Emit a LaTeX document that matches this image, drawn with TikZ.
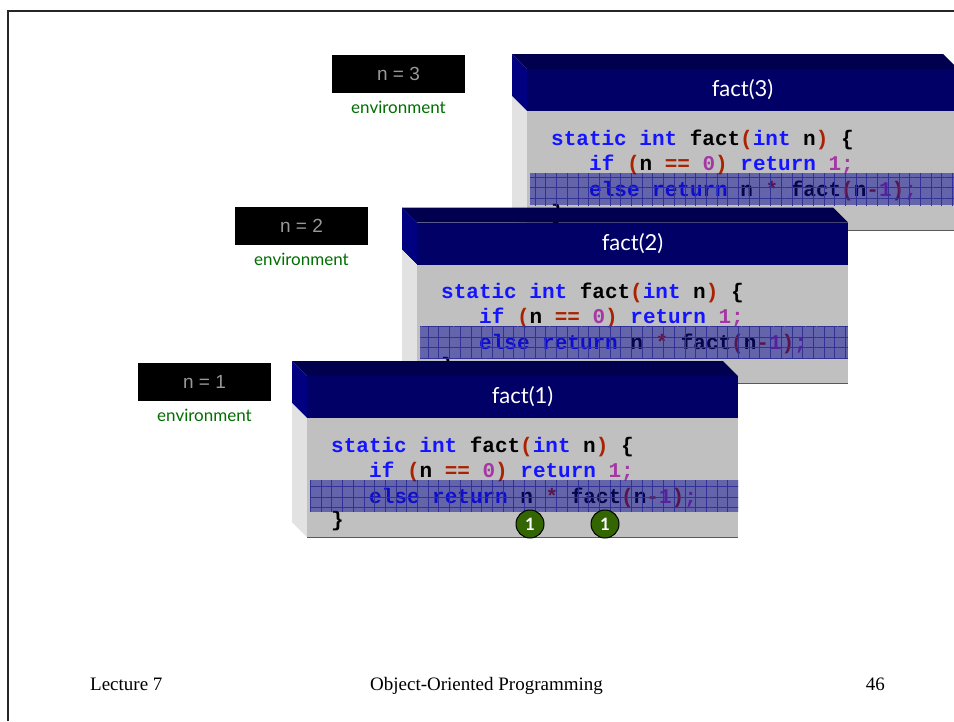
\documentclass[tikz,border=0pt]{standalone}
\usepackage{fontspec}
\setmainfont{Liberation Serif}
\newfontfamily\codefont{Liberation Mono}
\newfontfamily\handfont{Lato}
\newfontfamily\boxfont{Liberation Sans}
\usepackage{xcolor}
\usepackage{tikz}
\usetikzlibrary{positioning, patterns.meta}

\definecolor{navytop}{RGB}{0,0,78}
\definecolor{navyfront}{RGB}{0,0,102}
\definecolor{navyside}{RGB}{0,0,128}
\definecolor{bodygray}{RGB}{192,192,192}
\definecolor{sidegray}{RGB}{226,226,226}
\definecolor{kwblue}{RGB}{20,20,255}
\definecolor{opred}{RGB}{170,34,0}
\definecolor{numpurple}{RGB}{165,55,165}
\definecolor{envgreen}{RGB}{0,110,0}
\definecolor{badgegreen}{RGB}{51,102,0}
\definecolor{bandblue}{RGB}{10,10,150}
\definecolor{gridblue}{RGB}{50,50,150}

\newcommand{\codekw}[1]{\textcolor{kwblue}{#1}}
\newcommand{\codeop}[1]{\textcolor{opred}{#1}}
\newcommand{\codenum}[1]{\textcolor{numpurple}{#1}}

% one call frame: id, left x of front face, top y of front face, title
\newcommand{\callframe}[4]{%
  \begin{scope}[shift={(#2,#3)}]
    \fill[navytop] (0,0) -- (-15,-15) -- (416,-15) -- (431,0) -- cycle;
    \fill[navyside] (0,0) -- (-15,-15) -- (-15,27) -- (0,42) -- cycle;
    \fill[sidegray] (0,42) -- (-15,27) -- (-15,146) -- (0,161) -- cycle;
    \fill[navyfront] (0,0) rectangle (431,42);
    \fill[bodygray] (0,42) rectangle (431,161);
    \draw[gray!70!black] (0,161) -- (431,161);
    \node[head] (head#1) at (215.5,21) {#4};
    \node[code] (sig#1) at (24,76) {\codekw{static int} fact\codeop{(}\codekw{int} n\codeop{)} \{};
    \node[code] (base#1) at (62,101) {\codekw{if} \codeop{(}n \codeop{==} \codenum{0}\codeop{)} \codekw{return} \codenum{1;}};
    \node[code] (rec#1) at (62,127) {\codekw{else return} n \codeop{*} fact\codeop{(}n\codeop{-}\codenum{1}\codeop{)}\codenum{;}};
    \node[code] (close#1) at (24,150) {\}};
    \fill[band] (3,104) rectangle (431,136);
    \fill[vgrid] (3,104) rectangle (431,136);
    \fill[hgrid] (3,104) rectangle (431,136);
  \end{scope}}

\begin{document}
\begin{tikzpicture}[x=1pt, y=-1pt,
    head/.style={text=white, font=\handfont\fontsize{22}{22}\selectfont},
    code/.style={anchor=base west, inner sep=0pt, font=\codefont\bfseries\fontsize{21}{21}\selectfont},
    band/.style={fill=bandblue, fill opacity=0.5},
    vgrid/.style={pattern={Lines[angle=90, distance=10.7pt, line width=0.5pt]}, pattern color=gridblue},
    hgrid/.style={pattern={Lines[angle=0, distance=10.67pt, line width=0.5pt]}, pattern color=gridblue},
    envbox/.style={rectangle, fill=black, text=gray!80, minimum width=133pt, minimum height=38pt, font=\boxfont\fontsize{19}{19}\selectfont},
    envlabel/.style={text=envgreen, inner sep=0pt, font=\handfont\fontsize{17}{17}\selectfont},
    badge/.style={circle, draw=black, line width=1pt, fill=badgegreen, text=white, minimum size=28pt, inner sep=0pt, font=\handfont\bfseries\fontsize{17}{17}\selectfont},
    footer/.style={inner sep=0pt, font=\fontsize{19}{19}\selectfont}]

    \fill[white] (0,0) rectangle (954,721);
    \useasboundingbox (0,0) rectangle (954,721);
    \draw[line width=2.5pt, black!85] (8.2,721) -- (8.2,11) -- (954,11);

    % call stack, back to front
    \callframe{3}{527}{69}{fact(3)}
    \node [envbox] (env3) at (398.5,74) {n = 3};
    \node [envlabel, below=8pt of env3] (envtext3) {environment};

    \callframe{2}{417}{222.5}{fact(2)}
    \node [envbox] (env2) at (301.5,226) {n = 2};
    \node [envlabel, below=8pt of env2] (envtext2) {environment};

    \callframe{1}{307}{376}{fact(1)}
    \node [envbox] (env1) at (204.5,382) {n = 1};
    \node [envlabel, below=8pt of env1] (envtext1) {environment};

    \node [badge] (nvalue) at (530,524) {1};
    \node [badge] (factvalue) at (605,524) {1};

    \node [footer, anchor=base west] (lecture) at (90,690) {Lecture 7};
    \node [footer, anchor=base] (course) at (486.5,690) {Object-Oriented Programming};
    \node [footer, anchor=base east] (page) at (885,690) {46};
\end{tikzpicture}
\end{document}
